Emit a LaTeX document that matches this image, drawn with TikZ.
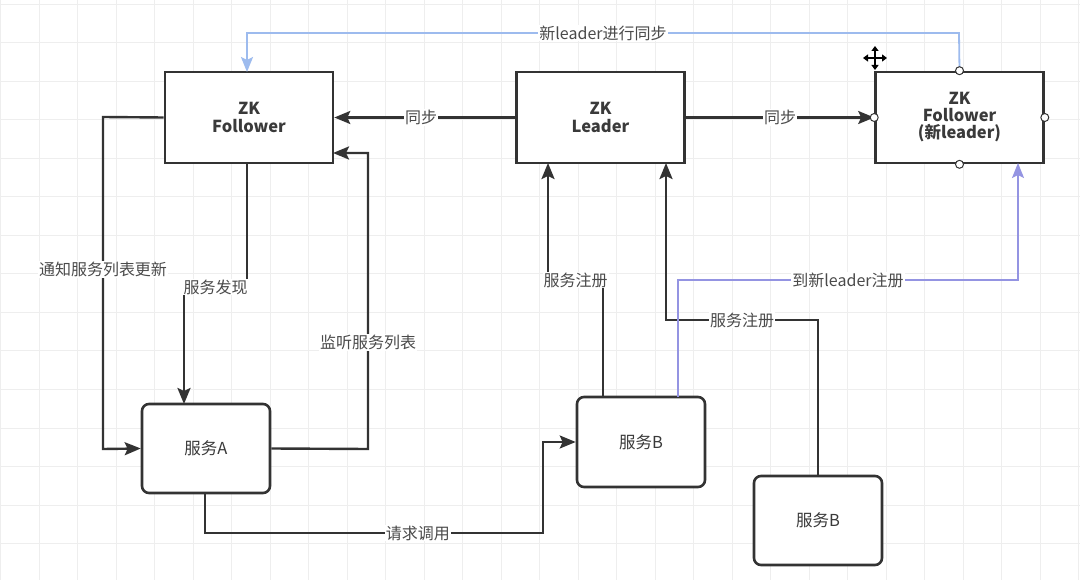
\documentclass[tikz,border=0pt]{standalone}
\usepackage{fontspec}
\setmainfont{Noto Sans CJK SC}
\usetikzlibrary{arrows.meta}
\definecolor{ln}{HTML}{333333}
\definecolor{txt}{HTML}{3A3A3A}
\definecolor{lbltxt}{HTML}{4A4A4A}
\definecolor{gridc}{HTML}{EEEEEE}
\definecolor{blueln}{HTML}{9DBBEE}
\definecolor{purpln}{HTML}{9494E2}
\tikzset{
  box/.style={draw=ln, line width=2.6pt, fill=white, minimum width=168pt, minimum height=91pt, align=center, text=txt, font=\fontsize{16.5pt}{18pt}\selectfont\bfseries},
  svc/.style={draw=ln, line width=2.6pt, fill=white, rounded corners=7pt, minimum width=128pt, minimum height=89pt, text=txt, font=\fontsize{16.5pt}{18pt}\selectfont},
  conn/.style={draw=ln, line width=2.4pt, -{Stealth[length=16pt,width=13pt,inset=3pt]}},
  lbl/.style={fill=white, inner sep=1pt, text=lbltxt, font=\fontsize{16pt}{17pt}\selectfont},
  handle/.style={circle, draw=ln, line width=1pt, fill=white, minimum size=8pt, inner sep=0pt}
}
\begin{document}
\begin{tikzpicture}[x=1pt, y=-1pt]
\useasboundingbox (0,0) rectangle (1080,580);
\fill[white] (0,0) rectangle (1080,580);
\foreach \i in {0,...,28} {
  \draw[gridc, line width=1pt] (38.5*\i+0.5,0) -- (38.5*\i+0.5,580);
}
\foreach \j in {0,...,15} {
  \draw[gridc, line width=1pt] (0,38.5*\j+4.5) -- (1080,38.5*\j+4.5);
}
% nodes
\node[box] (F) at (249,117.5) {ZK\\Follower};
\node[box] (L) at (600.5,117.5) {ZK\\Leader};
\node[box, font=\fontsize{16.5pt}{17pt}\selectfont\bfseries] (N) at (959.5,117.5) {ZK\\Follower\\(新leader)};
\node[svc] (A) at (206,448.5) {服务A};
\node[svc, minimum height=90pt] (B1) at (641,442) {服务B};
\node[svc] (B2) at (818,520.5) {服务B};
% helper coordinates
\coordinate (cursor) at (875,58);
% connectors
\draw[conn] (L.west) -- node[lbl, pos=0.52]{同步} (F.east);
\draw[conn] (L.east) -- node[lbl, pos=0.5]{同步} (N.west);
\draw[conn, draw=blueln, line width=1.8pt, -{Stealth[length=15pt,width=12pt,inset=3pt]}] (N.north) -- (959,33) -- node[lbl, pos=0.5]{新leader进行同步} (247,33) -- (247,72);
\draw[conn] (F.west) -- (103,117) -- node[lbl, pos=0.46]{通知服务列表更新} (103,449) -- (A.west);
\draw[conn] (247,163) -- (247,287) -- node[lbl]{服务发现} (184,287) -- (184,404);
\draw[conn] (A.east) -- (368,449) -- node[lbl, pos=0.36]{监听服务列表} (368,153) -- (333,153);
\draw[conn] (205,493) -- (205,533) -- node[lbl, pos=0.63]{请求调用} (543,533) -- (543,442) -- (B1.west);
\draw[conn] (603,397) -- (603,280) -- node[lbl]{服务注册} (548,280) -- (548,163);
\draw[conn] (B2.north) -- (818,320) -- node[lbl, pos=0.5]{服务注册} (666,320) -- (666,163);
\draw[conn, draw=purpln, line width=1.6pt, -{Stealth[length=15pt,width=12pt,inset=3pt]}] (678,397) -- (678,280) -- node[lbl, pos=0.5]{到新leader注册} (1018,280) -- (1018,163);
% selection handles
\node[handle] (h1) at (N.north) {};
\node[handle] (h2) at (N.south) {};
\node[handle] (h3) at (N.west) {};
\node[handle] (h4) at (N.east) {};
% move cursor
\foreach \dx/\dy in {1/0,-1/0,0/1,0/-1} {
  \draw[black, line width=1.8pt, -{Triangle[length=5pt,width=7pt]}] (cursor) -- ++(12*\dx,12*\dy);
}
\end{tikzpicture}
\end{document}
